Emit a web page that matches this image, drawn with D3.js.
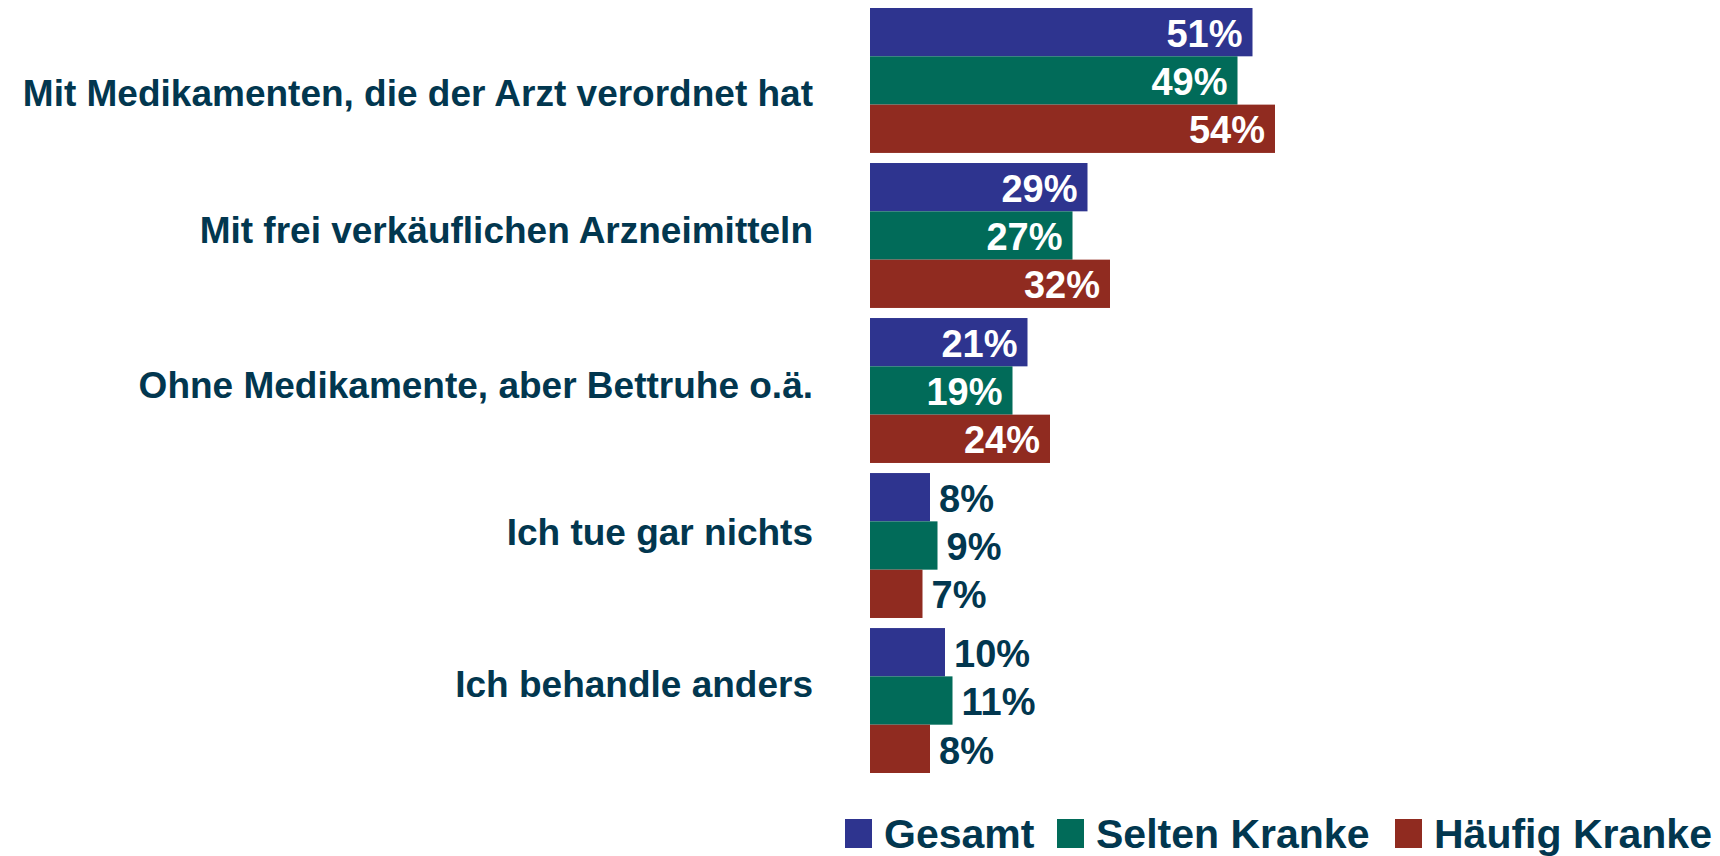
<!DOCTYPE html>
<html>
<head>
  <meta charset="UTF-8" />
  <title>Behandlung bei Krankheit</title>
  <script src="https://d3js.org/d3.v7.min.js"></script>
  <style>
    body { margin: 0; background: #ffffff; }
    text { font-family: "Liberation Sans", Arial, sans-serif; font-weight: bold; }
  </style>
</head>
<body>
<div id="chart"></div>
<script>
  // categories (top to bottom)
  var categories = [
    "Mit Medikamenten, die der Arzt verordnet hat",
    "Mit frei verkäuflichen Arzneimitteln",
    "Ohne Medikamente, aber Bettruhe o.ä.",
    "Ich tue gar nichts",
    "Ich behandle anders"
  ];
  var seriesNames = ["Gesamt", "Selten Kranke", "Häufig Kranke"];
  var gesamt = [51, 29, 21, 8, 10];
  var selten = [49, 27, 19, 9, 11];
  var haeufig = [54, 32, 24, 7, 8];
  var colors = ["#2e348f", "#016b59", "#902b20"];

  var W = 1720, H = 856;
  var textColor = "#02374f";
  // the category labels in the original sit a bit off the group centre
  var labelShift = [12, -6, -6, -14, -17];

  var svg = d3.select("#chart").append("svg")
      .attr("width", W)
      .attr("height", H);

  var x = d3.scaleLinear()
      .domain([0, 60])
      .range([870, 1320]);

  var y0 = d3.scaleBand()
      .domain(categories)
      .range([8, 773])
      .paddingInner(0.065)
      .paddingOuter(0);

  var y1 = d3.scaleBand()
      .domain(seriesNames)
      .range([0, y0.bandwidth()]);

  var rows = categories.map(function(c, i) {
    return {
      cat: c,
      vals: [gesamt[i], selten[i], haeufig[i]].map(function(v, j) {
        return {series: seriesNames[j], value: v, color: colors[j]};
      })
    };
  });

  var groups = svg.selectAll(".group")
      .data(rows)
      .enter().append("g")
      .attr("class", "group")
      .attr("transform", function(d) { return "translate(0," + y0(d.cat) + ")"; });

  groups.selectAll("rect")
      .data(function(d) { return d.vals; })
      .enter().append("rect")
      .attr("x", x(0))
      .attr("y", function(d) { return y1(d.series); })
      .attr("width", function(d) { return x(d.value) - x(0); })
      .attr("height", y1.bandwidth())
      .attr("fill", function(d) { return d.color; });

  // value labels: inside (white) when the bar is long enough, outside otherwise
  groups.selectAll(".val")
      .data(function(d) { return d.vals; })
      .enter().append("text")
      .attr("class", "val")
      .attr("x", function(d) { return d.value > 15 ? x(d.value) - 10 : x(d.value) + 9; })
      .attr("y", function(d) { return y1(d.series) + y1.bandwidth() / 2 + 1; })
      .attr("dy", "0.36em")
      .attr("text-anchor", function(d) { return d.value > 15 ? "end" : "start"; })
      .attr("fill", function(d) { return d.value > 15 ? "#ffffff" : textColor; })
      .style("font-size", "38px")
      .text(function(d) { return d.value + "%"; });

  // category labels
  svg.selectAll(".cat")
      .data(categories)
      .enter().append("text")
      .attr("class", "cat")
      .attr("x", 813)
      .attr("y", function(d, i) { return y0(d) + y0.bandwidth() / 2 + labelShift[i]; })
      .attr("dy", "0.36em")
      .attr("text-anchor", "end")
      .attr("fill", textColor)
      .style("font-size", "37px")
      .text(function(d) { return d; });

  // legend
  var legendX = [845, 1057, 1395];
  var legend = svg.selectAll(".legend")
      .data(seriesNames)
      .enter().append("g")
      .attr("class", "legend")
      .attr("transform", function(d, i) { return "translate(" + legendX[i] + ",819)"; });
  legend.append("rect")
      .attr("width", 27)
      .attr("height", 29)
      .attr("fill", function(d, i) { return colors[i]; });
  legend.append("text")
      .attr("x", 39)
      .attr("y", 29)
      .attr("fill", textColor)
      .style("font-size", "41px")
      .text(function(d) { return d; });
</script>
</body>
</html>
